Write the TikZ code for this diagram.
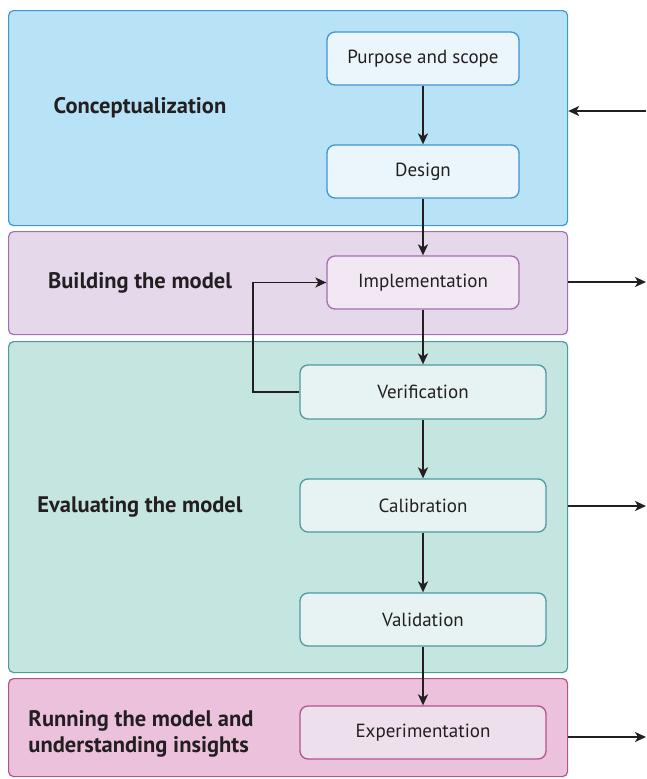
\documentclass[tikz,border=0pt]{standalone}
\usepackage{fontspec}
\setmainfont{PT Sans}
\usetikzlibrary{arrows.meta}
\definecolor{cband}{HTML}{B8E3F7}
\definecolor{cline}{HTML}{3D95D3}
\definecolor{cbox}{HTML}{EAF6FC}
\definecolor{bband}{HTML}{E6D8EB}
\definecolor{bline}{HTML}{A46FAF}
\definecolor{bbox}{HTML}{F1E8F4}
\definecolor{eband}{HTML}{C5E5E0}
\definecolor{eline}{HTML}{4E9AA3}
\definecolor{ebox}{HTML}{E6F3F2}
\definecolor{rband}{HTML}{EBC1DC}
\definecolor{rline}{HTML}{B2548B}
\definecolor{rbox}{HTML}{EEDFEC}
\definecolor{ink}{HTML}{231F20}
\begin{document}
\begin{tikzpicture}[x=1pt,y=-1pt,
  band/.style={draw, line width=1.2pt, rounded corners=5pt, anchor=north west, minimum width=559pt, inner sep=0pt},
  stagebox/.style={draw, line width=1.3pt, rounded corners=8pt, minimum height=53pt, inner sep=0pt, font=\fontsize{19}{22}\selectfont, text=ink},
  bandlabel/.style={font=\fontsize{22.5}{26}\selectfont\bfseries, text=ink, align=left},
  arr/.style={draw=ink, line width=1.8pt, -{Stealth[length=11pt,width=10pt,inset=3pt]}}]
\useasboundingbox (0,0) rectangle (647,779);
% bands
\node[band, draw=cline, fill=cband, minimum height=215pt] (b1) at (8,10) {};
\node[band, draw=bline, fill=bband, minimum height=103pt] (b2) at (8,231) {};
\node[band, draw=eline, fill=eband, minimum height=331pt] (b3) at (8,341) {};
\node[band, draw=rline, fill=rband, minimum height=98pt] (b4) at (8,678) {};
% band labels
\node[bandlabel] (l1) at (140,108) {Conceptualization};
\node[bandlabel] (l2) at (140,283) {Building the model};
\node[bandlabel] (l3) at (140,507) {Evaluating the model};
\node[bandlabel] (l4) at (141,734) {Running the model and\\understanding insights};
% stage boxes
\node[stagebox, draw=cline, fill=cbox, minimum width=192pt] (p) at (423,58.5) {Purpose and scope};
\node[stagebox, draw=cline, fill=cbox, minimum width=192pt] (d) at (423,171.5) {Design};
\node[stagebox, draw=bline, fill=bbox, minimum width=192pt] (i) at (423,282.5) {Implementation};
\node[stagebox, draw=eline, fill=ebox, minimum width=246pt, minimum height=54pt] (v) at (423,392) {Verification};
\node[stagebox, draw=eline, fill=ebox, minimum width=246pt] (c) at (423,505.5) {Calibration};
\node[stagebox, draw=eline, fill=ebox, minimum width=246pt] (va) at (423,619.5) {Validation};
\node[stagebox, draw=rline, fill=rbox, minimum width=246pt] (e) at (423,732.5) {Experimentation};
% vertical flow
\draw[arr] (p) -- (d);
\draw[arr] (d) -- (i);
\draw[arr] (i) -- (v);
\draw[arr] (v) -- (c);
\draw[arr] (c) -- (va);
\draw[arr] (va) -- (e);
% feedback
\draw[arr] (v.west) -- ++(-46,0) |- (i.west);
% side arrows
\coordinate (r1) at (646,111);
\coordinate (r2) at (646,282);
\coordinate (r3) at (646,506);
\coordinate (r4) at (646,737);
\draw[arr] (r1) -- (b1.east |- r1);
\draw[arr] (b2.east |- r2) -- (r2);
\draw[arr] (b3.east |- r3) -- (r3);
\draw[arr] (b4.east |- r4) -- (r4);
\end{tikzpicture}
\end{document}
